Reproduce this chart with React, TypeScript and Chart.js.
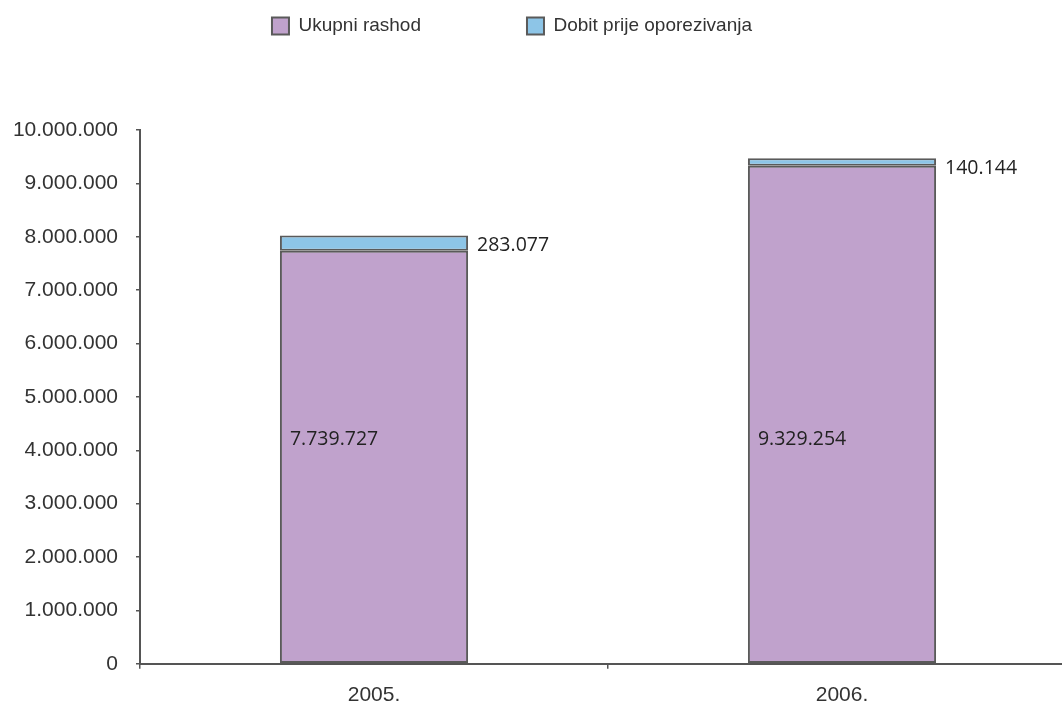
import React, { useEffect, useRef } from "react";
import { Chart, registerables } from "chart.js";

Chart.register(...registerables);

const categories = ["2005.", "2006."];
const seriesNames = ["Ukupni rashod", "Dobit prije oporezivanja"];
const expenses = [7739727, 9329254];
const profit = [283077, 140144];
const yMin = 0;
const yMax = 10000000;
const yStep = 1000000;

const fmt = (v: number) =>
  Math.round(v)
    .toString()
    .replace(/\B(?=(\d{3})+(?!\d))/g, ".");

const AXIS_FONT = '"Liberation Sans", Arial, Helvetica, sans-serif';
const LABEL_FONT = '"Open Sans", "Noto Sans", sans-serif';
const LEGEND_HEIGHT = 130;
const LEGEND_ITEM_TOP = 16.5;
const INSIDE_LABEL_VALUE = 4210000;
const CANVAS_W = 1128;
const CANVAS_H = 722;

const legendFit = {
  id: "legendFit",
  beforeInit(chart: any) {
    const legend = chart.legend;
    if (!legend) return;
    const orig = legend.fit;
    legend.fit = function () {
      orig.call(this);
      this.height = LEGEND_HEIGHT;
    };
  },
  afterLayout(chart: any) {
    const legend = chart.legend;
    if (!legend) return;
    legend.top = LEGEND_ITEM_TOP - legend.options.labels.padding;
  },
};

const valueLabels = {
  id: "valueLabels",
  afterDatasetsDraw(chart: any) {
    const ctx = chart.ctx;
    const yScale = chart.scales.y;
    ctx.save();
    ctx.font = `19.5px ${LABEL_FONT}`;
    ctx.fillStyle = "#222222";
    ctx.textBaseline = "middle";
    ctx.textAlign = "left";
    chart.getDatasetMeta(0).data.forEach((bar: any, i: number) => {
      const { x, width } = bar.getProps(["x", "width"], true);
      ctx.fillText(fmt(expenses[i]), x - width / 2 + 10, yScale.getPixelForValue(INSIDE_LABEL_VALUE));
    });
    chart.getDatasetMeta(1).data.forEach((bar: any, i: number) => {
      const { x, y, base, width } = bar.getProps(["x", "y", "base", "width"], true);
      const cy = Math.max((y + base) / 2, y + 10);
      ctx.fillText(fmt(profit[i]), x + width / 2 + 9, cy);
    });
    ctx.restore();
  },
};

export default function App() {
  const ref = useRef<HTMLCanvasElement | null>(null);

  useEffect(() => {
    if (!ref.current) return;
    const chart = new Chart(ref.current, {
      type: "bar",
      data: {
        labels: categories,
        datasets: [
          {
            label: seriesNames[0],
            data: expenses,
            backgroundColor: "#C0A2CC",
            borderColor: "#5a5a5a",
            borderWidth: 2,
            borderSkipped: false,
            barPercentage: 0.402,
            categoryPercentage: 1,
          },
          {
            label: seriesNames[1],
            data: profit,
            backgroundColor: "#8DC5E7",
            borderColor: "#5a5a5a",
            borderWidth: 2,
            borderSkipped: false,
            barPercentage: 0.402,
            categoryPercentage: 1,
          },
        ],
      },
      options: {
        responsive: false,
        animation: false,
        devicePixelRatio: 1,
        layout: { padding: 0 },
        plugins: {
          legend: {
            display: true,
            position: "top",
            labels: {
              boxWidth: 17,
              boxHeight: 17,
              padding: 106,
              color: "#333333",
              font: { family: AXIS_FONT, size: 19 },
            },
          },
          tooltip: { enabled: false },
        },
        scales: {
          x: {
            stacked: true,
            offset: true,
            grid: {
              display: true,
              offset: true,
              drawOnChartArea: false,
              drawTicks: true,
              tickLength: 5,
              color: "#555555",
              lineWidth: 1.5,
            },
            border: { display: true, color: "#555555", width: 2 },
            ticks: {
              color: "#333333",
              padding: 14,
              font: { family: AXIS_FONT, size: 21 },
            },
          },
          y: {
            stacked: true,
            min: yMin,
            max: yMax,
            grid: {
              display: true,
              drawOnChartArea: false,
              drawTicks: true,
              tickLength: 4,
              color: "#555555",
              lineWidth: 1.5,
            },
            border: { display: true, color: "#555555", width: 2 },
            ticks: {
              stepSize: yStep,
              color: "#333333",
              padding: 18,
              font: { family: AXIS_FONT, size: 21 },
              callback: (v: any) => fmt(Number(v)),
            },
            afterFit(scale: any) {
              scale.width = 192;
            },
          },
        },
      },
      plugins: [legendFit, valueLabels],
    });
    return () => chart.destroy();
  }, []);

  return (
    <div
      style={{
        position: "fixed",
        left: 0,
        top: 0,
        width: 1062,
        height: 704,
        overflow: "hidden",
        background: "#ffffff",
      }}
    >
      <canvas
        ref={ref}
        width={CANVAS_W}
        height={CANVAS_H}
        style={{ position: "absolute", left: -52, top: 0, width: CANVAS_W, height: CANVAS_H, display: "block" }}
      />
    </div>
  );
}
